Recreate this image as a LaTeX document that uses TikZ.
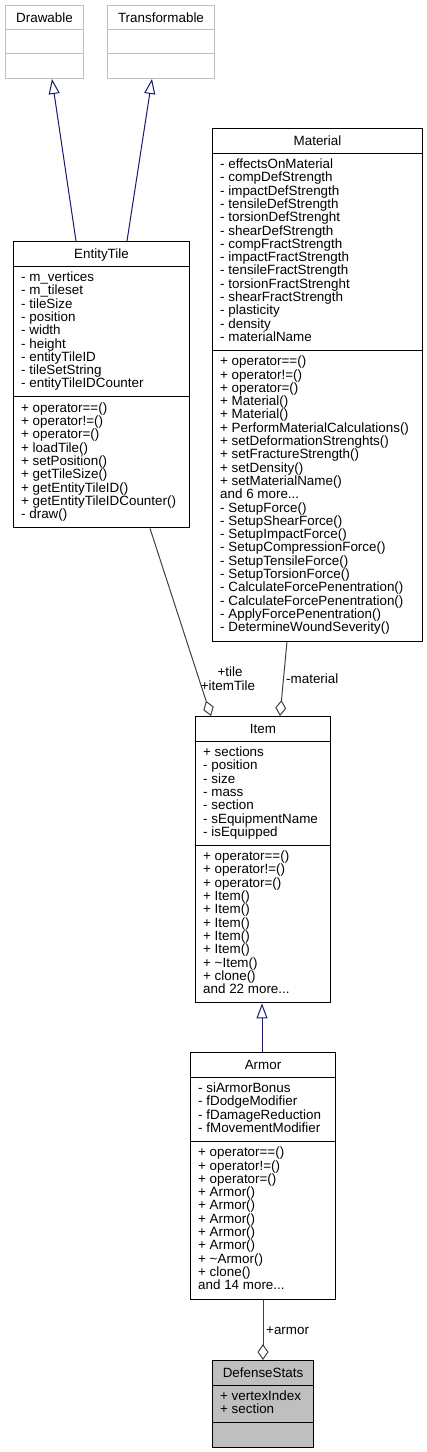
\documentclass[tikz,border=0pt]{standalone}
\usepackage{fontspec}
\setmainfont{Liberation Sans}
\usetikzlibrary{arrows.meta,calc}
\definecolor{navyedge}{HTML}{191970}
\definecolor{aggredge}{HTML}{404040}
\definecolor{boxgray}{HTML}{BFBFBF}
\newcommand{\memb}[1]{\vtop{\baselineskip=13.3pt\lineskiplimit=-50pt\lineskip=0pt\let\\\cr\halign{##\hfil\cr#1\crcr}}}
\begin{document}
\begin{tikzpicture}[x=1pt,y=-1pt,
  every node/.style={font=\fontsize{13.4}{13.3}\selectfont},
  clsbox/.style={draw=black, line width=1pt, fill=white, inner sep=0pt, anchor=north west},
  extbox/.style={draw=boxgray, line width=1pt, fill=white, inner sep=0pt, anchor=north west},
  curbox/.style={draw=black, line width=1pt, fill=boxgray, inner sep=0pt, anchor=north west},
  divline/.style={line width=1pt, draw=black},
  extdiv/.style={line width=1pt, draw=boxgray},
  clstitle/.style={anchor=base, inner sep=0pt},
  membs/.style={anchor=base west, inner sep=0pt},
  inherit/.style={draw=navyedge, line width=1pt, -{Triangle[open, length=15pt, width=11pt, fill=white]}},
  aggr/.style={draw=aggredge, line width=1pt, -{Diamond[open, length=16pt, width=11pt, fill=white]}},
  elabel/.style={inner sep=0pt}
]
\useasboundingbox (0,0) rectangle (427,1452);

% ---------- Drawable ----------
\node[extbox, minimum width=78pt, minimum height=73pt] (drawable) at (5,5) {};
\node[clstitle] (drawable-t) at ($(drawable.north)+(0,17)$) {Drawable};
\draw[extdiv] ($(drawable.north west)+(0,24.5)$) -- ($(drawable.north east)+(0,24.5)$);
\draw[extdiv] ($(drawable.north west)+(0,48.5)$) -- ($(drawable.north east)+(0,48.5)$);

% ---------- Transformable ----------
\node[extbox, minimum width=107pt, minimum height=73pt] (transformable) at (107,5) {};
\node[clstitle] (transformable-t) at ($(transformable.north)+(0,17)$) {Transformable};
\draw[extdiv] ($(transformable.north west)+(0,24.5)$) -- ($(transformable.north east)+(0,24.5)$);
\draw[extdiv] ($(transformable.north west)+(0,48.5)$) -- ($(transformable.north east)+(0,48.5)$);

% ---------- EntityTile ----------
\node[clsbox, minimum width=176pt, minimum height=286.4pt] (entitytile) at (13,241) {};
\node[clstitle] (entitytile-t) at ($(entitytile.north)+(0,17)$) {EntityTile};
\draw[divline] ($(entitytile.north west)+(0,25)$) -- ($(entitytile.north east)+(0,25)$);
\draw[divline] ($(entitytile.north west)+(0,155.7)$) -- ($(entitytile.north east)+(0,155.7)$);
\node[membs] (entitytile-a) at ($(entitytile.north west)+(8,40.5)$) {\memb{- m\_vertices\\- m\_tileset\\- tileSize\\- position\\- width\\- height\\- entityTileID\\- tileSetString\\- entityTileIDCounter}};
\node[membs] (entitytile-m) at ($(entitytile.north west)+(8,171.2)$) {\memb{+ operator==()\\+ operator!=()\\+ operator=()\\+ loadTile()\\+ setPosition()\\+ getTileSize()\\+ getEntityTileID()\\+ getEntityTileIDCounter()\\- draw()}};

% ---------- Material ----------
\node[clsbox, minimum width=210pt, minimum height=512.5pt] (material) at (212,128) {};
\node[clstitle] (material-t) at ($(material.north)+(0,17)$) {Material};
\draw[divline] ($(material.north west)+(0,25)$) -- ($(material.north east)+(0,25)$);
\draw[divline] ($(material.north west)+(0,222.2)$) -- ($(material.north east)+(0,222.2)$);
\node[membs] (material-a) at ($(material.north west)+(8,40.5)$) {\memb{- effectsOnMaterial\\- compDefStrength\\- impactDefStrength\\- tensileDefStrength\\- torsionDefStrenght\\- shearDefStrength\\- compFractStrength\\- impactFractStrength\\- tensileFractStrength\\- torsionFractStrenght\\- shearFractStrength\\- plasticity\\- density\\- materialName}};
\node[membs] (material-m) at ($(material.north west)+(8,237.7)$) {\memb{+ operator==()\\+ operator!=()\\+ operator=()\\+ Material()\\+ Material()\\+ PerformMaterialCalculations()\\+ setDeformationStrenghts()\\+ setFractureStrength()\\+ setDensity()\\+ setMaterialName()\\and 6 more...\\- SetupForce()\\- SetupShearForce()\\- SetupImpactForce()\\- SetupCompressionForce()\\- SetupTensileForce()\\- SetupTorsionForce()\\- CalculateForcePenentration()\\- CalculateForcePenentration()\\- ApplyForcePenentration()\\- DetermineWoundSeverity()}};

% ---------- Item ----------
\node[clsbox, minimum width=135pt, minimum height=286.4pt] (item) at (195,716) {};
\node[clstitle] (item-t) at ($(item.north)+(0,17)$) {Item};
\draw[divline] ($(item.north west)+(0,25)$) -- ($(item.north east)+(0,25)$);
\draw[divline] ($(item.north west)+(0,129.1)$) -- ($(item.north east)+(0,129.1)$);
\node[membs] (item-a) at ($(item.north west)+(8,40.5)$) {\memb{+ sections\\- position\\- size\\- mass\\- section\\- sEquipmentName\\- isEquipped}};
\node[membs] (item-m) at ($(item.north west)+(8,144.6)$) {\memb{+ operator==()\\+ operator!=()\\+ operator=()\\+ Item()\\+ Item()\\+ Item()\\+ Item()\\+ Item()\\+ \textasciitilde Item()\\+ clone()\\and 22 more...}};

% ---------- Armor ----------
\node[clsbox, minimum width=145pt, minimum height=246.5pt] (armor) at (190,1052) {};
\node[clstitle] (armor-t) at ($(armor.north)+(0,17)$) {Armor};
\draw[divline] ($(armor.north west)+(0,25)$) -- ($(armor.north east)+(0,25)$);
\draw[divline] ($(armor.north west)+(0,89.2)$) -- ($(armor.north east)+(0,89.2)$);
\node[membs] (armor-a) at ($(armor.north west)+(8,40.5)$) {\memb{- siArmorBonus\\- fDodgeModifier\\- fDamageReduction\\- fMovementModifier}};
\node[membs] (armor-m) at ($(armor.north west)+(8,104.7)$) {\memb{+ operator==()\\+ operator!=()\\+ operator=()\\+ Armor()\\+ Armor()\\+ Armor()\\+ Armor()\\+ Armor()\\+ \textasciitilde Armor()\\+ clone()\\and 14 more...}};

% ---------- DefenseStats ----------
\node[curbox, minimum width=101pt, minimum height=86.6pt] (defensestats) at (212,1360) {};
\node[clstitle] (defensestats-t) at ($(defensestats.north)+(0,17)$) {DefenseStats};
\draw[divline] ($(defensestats.north west)+(0,25)$) -- ($(defensestats.north east)+(0,25)$);
\draw[divline] ($(defensestats.north west)+(0,62.6)$) -- ($(defensestats.north east)+(0,62.6)$);
\node[membs] (defensestats-a) at ($(defensestats.north west)+(8,40.5)$) {\memb{+ vertexIndex\\+ section}};

% ---------- connectors ----------
\draw[inherit] ($(entitytile.north west)+(63,0)$) -- ($(drawable.south west)+(47,0)$);
\draw[inherit] ($(entitytile.north west)+(114,0)$) -- ($(transformable.south west)+(45,0)$);
\draw[aggr] ($(entitytile.south west)+(137,0)$) -- ($(item.north west)+(16,0)$);
\draw[aggr] ($(material.south west)+(75,0)$) -- ($(item.north west)+(85,0)$);
\draw[inherit] ($(armor.north west)+(72,0)$) -- ($(item.south west)+(67,0)$);
\draw[aggr] ($(armor.south west)+(73,0)$) -- ($(defensestats.north west)+(51,0)$);

% ---------- connector labels ----------
\node[elabel, anchor=base] (lbl-tile) at (230,676) {+tile};
\node[elabel, anchor=base] (lbl-itemtile) at (228,690) {+itemTile};
\node[elabel, anchor=base west] (lbl-material) at (286,683) {-material};
\node[elabel, anchor=base west] (lbl-armor) at (266,1334) {+armor};
\end{tikzpicture}
\end{document}
